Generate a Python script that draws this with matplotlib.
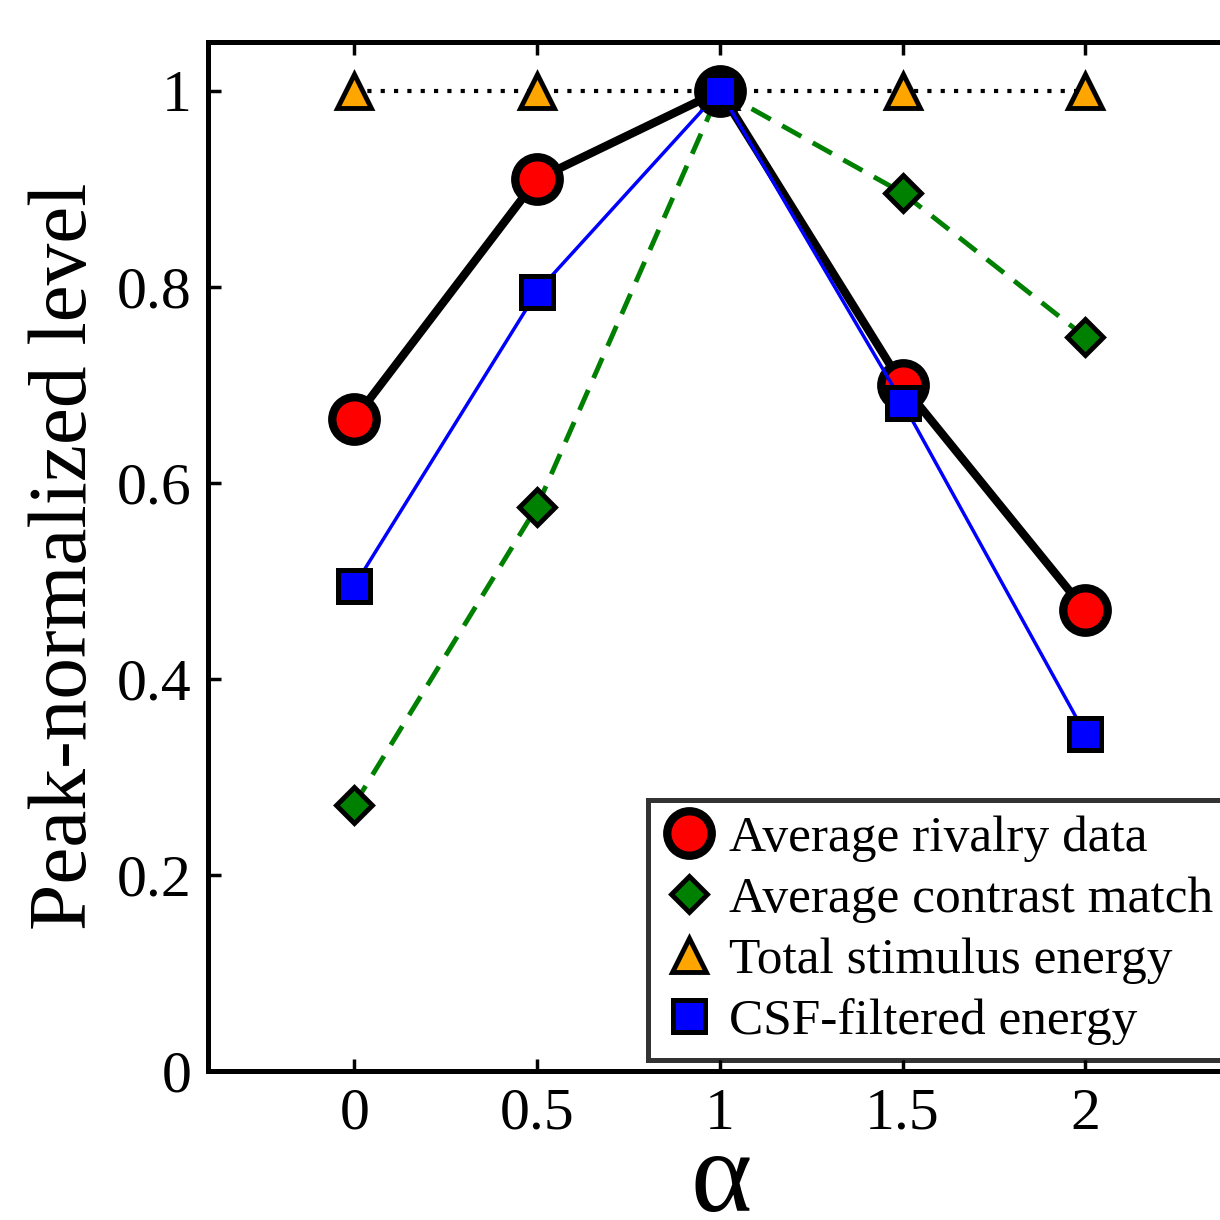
import numpy as np
import matplotlib
matplotlib.use('Agg')
import matplotlib.pyplot as plt

alpha = [0, 0.5, 1, 1.5, 2]
rivalry = [0.665, 0.91, 1.0, 0.70, 0.47]
contrast = [0.272, 0.576, 1.0, 0.896, 0.749]
energy = [1.0, 1.0, 1.0, 1.0, 1.0]
csf = [0.495, 0.795, 1.0, 0.682, 0.344]

xticks = [0, 0.5, 1, 1.5, 2]
xticklabels = ['0', '0.5', '1', '1.5', '2']
yticks = [0, 0.2, 0.4, 0.6, 0.8, 1.0]
yticklabels = ['0', '0.2', '0.4', '0.6', '0.8', '1']

plt.rcParams['font.family'] = ['Liberation Serif', 'DejaVu Serif']
plt.rcParams['mathtext.fontset'] = 'custom'
plt.rcParams['mathtext.rm'] = 'Liberation Serif'

fig = plt.figure(figsize=(12.2, 12.2), dpi=100)
ax = fig.add_axes([0.1705, 0.122, 0.839, 0.8436])

# dotted reference line with triangles
l_en, = ax.plot(alpha, energy, color='black', linestyle=(0, (1, 2.2)), linewidth=3,
                marker='^', markersize=25, markerfacecolor='orange',
                markeredgecolor='black', markeredgewidth=3.5, zorder=2,
                label='Total stimulus energy')
l_con, = ax.plot(alpha, contrast, color='green', linestyle=(0, (4.5, 2.7)), linewidth=3.5,
                 marker='D', markersize=18.5, markerfacecolor='green',
                 markeredgecolor='black', markeredgewidth=3.5, zorder=2.5,
                 label='Average contrast match')
l_riv, = ax.plot(alpha, rivalry, color='black', linewidth=6,
                 marker='o', markersize=32, markerfacecolor='red',
                 markeredgecolor='black', markeredgewidth=6, zorder=3,
                 label='Average rivalry data')
l_csf, = ax.plot(alpha, csf, color='blue', linewidth=2.5,
                 marker='s', markersize=23, markerfacecolor='blue',
                 markeredgecolor='black', markeredgewidth=3.6, zorder=4,
                 label='CSF-filtered energy')

ax.set_xlim(-0.4, 2.4)
ax.set_ylim(0, 1.05)
ax.set_xticks(xticks)
ax.set_xticklabels(xticklabels)
ax.set_yticks(yticks)
ax.set_yticklabels(yticklabels)
ax.tick_params(direction='in', length=9, width=2.5, labelsize=43,
               top=True, right=True, pad=12)
for s in ax.spines.values():
    s.set_linewidth(3.6)

ax.set_xlabel(r'$\mathrm{\alpha}$', fontsize=84, va='baseline')
ax.xaxis.set_label_coords(0.5, -0.136)
ax.set_ylabel('Peak-normalized level', fontsize=60, labelpad=9)

leg = ax.legend(handles=[l_riv, l_con, l_en, l_csf], loc='lower left',
                bbox_to_anchor=(0.4297, 0.0107), fontsize=37, frameon=True,
                fancybox=False, handlelength=1.0, handletextpad=0.28,
                borderpad=0.3, labelspacing=0.27, borderaxespad=0)
leg.get_frame().set_edgecolor('black')
leg.get_frame().set_linewidth(3.6)
for h in leg.legend_handles:
    h.set_linestyle('none')

fig.savefig('out.png', dpi=100)
